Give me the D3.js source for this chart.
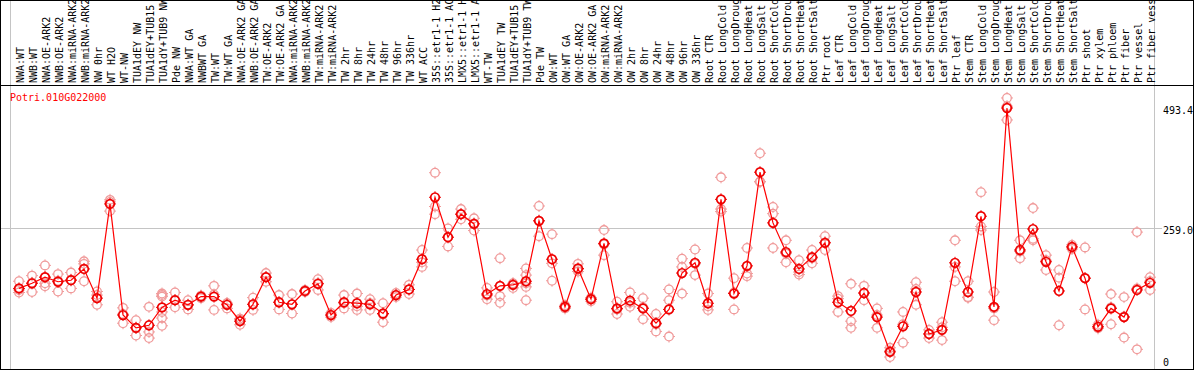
<!DOCTYPE html>
<html>
<head>
<meta charset="utf-8">
<script src="https://cdn.jsdelivr.net/npm/d3@7"></script>
<style>
  body { margin: 0; background: #fff; }
  svg { display: block; }
  text { font-family: "DejaVu Sans Mono", monospace; font-size: 10px; }
</style>
</head>
<body>
<div id="chart"></div>
<script>
// Data
const geneName = 'Potri.010G022000';

const labels = [
  'NWA:WT', 'NWB:WT', 'NWA:OE-ARK2', 'NWB:OE-ARK2', 'NWA:miRNA-ARK2', 'NWB:miRNA-ARK2',
  'NW 0hr', 'WT H2O', 'WT-NW', 'TUA1dEY NW', 'TUA1dEY+TUB15', 'TUA1dY+TUB9 NW', 'Pde NW',
  'NWA:WT GA', 'NWBWT GA', 'TW:WT', 'TW:WT GA', 'NWA:OE-ARK2 GA', 'NWB:OE-ARK2 GA',
  'TW:OE-ARK2', 'TW:OE-ARK2 GA', 'NWA:miRNA-ARK2', 'NWB:miRNA-ARK2', 'TW:miRNA-ARK2',
  'TW:miRNA-ARK2', 'TW 2hr', 'TW 8hr', 'TW 24hr', 'TW 48hr', 'TW 96hr', 'TW 336hr',
  'WT ACC', '35S::etr1-1 H2', '35S::etr1-1 AC', 'LMX5::etr1-1 H', 'LMX5::etr1-1 A',
  'WT-TW', 'TUA1dEY TW', 'TUA1dEY+TUB15', 'TUA1dY+TUB9 TW', 'Pde TW',
  'OW:WT', 'OW:WT GA', 'OW:OE-ARK2', 'OW:OE-ARK2 GA', 'OW:miRNA-ARK2', 'OW:miRNA-ARK2',
  'OW 2hr', 'OW 8hr', 'OW 24hr', 'OW 48hr', 'OW 96hr', 'OW 336hr',
  'Root CTR', 'Root LongCold', 'Root LongDroug', 'Root LongHeat', 'Root LongSalt',
  'Root ShortCold', 'Root ShortDrou', 'Root ShortHeat', 'Root ShortSalt', 'Ptr root',
  'Leaf CTR', 'Leaf LongCold', 'Leaf LongDroug', 'Leaf LongHeat', 'Leaf LongSalt',
  'Leaf ShortCold', 'Leaf ShortDrou', 'Leaf ShortHeat', 'Leaf ShortSalt', 'Ptr leaf',
  'Stem CTR', 'Stem LongCold', 'Stem LongDroug', 'Stem LongHeat', 'Stem LongSalt',
  'Stem ShortCold', 'Stem ShortDrou', 'Stem ShortHeat', 'Stem ShortSalt', 'Ptr shoot',
  'Ptr xylem', 'Ptr phloem', 'Ptr fiber', 'Ptr vessel', 'Ptr fiber vessel'
];

const means = [
  141, 151, 163, 154, 157, 179, 122, 306, 89, 64, 69, 104, 118,
  109, 125, 125, 109, 77, 110, 163, 114, 110, 136, 150, 89, 114, 112, 110, 92, 128, 139,
  198, 319, 241, 286, 267, 130, 146, 148, 155, 273,
  198, 105, 180, 120, 229, 102, 117, 102, 73, 100, 171, 191,
  112, 315, 131, 185, 368, 269, 212, 179, 202, 230,
  114, 97, 132, 85, 17, 67, 134, 52, 60, 191,
  134, 282, 105, 493.4, 216, 257, 193, 136, 222, 161, 66,
  102, 85, 138, 152
];

const replicates = [
  [155, 133, 138], [166, 134, 152], [186, 163, 151, 145], [169, 135, 156], [172, 141, 158],
  [194, 189, 155], [135, 128, 109], [314, 310, 292], [103, 73, 91], [79, 49, 64],
  [105, 56, 44], [131, 128, 125, 95, 83, 68], [133, 118, 104],
  [118, 100, 108], [127, 122, 125], [146, 99, 129], [112, 102, 112], [80, 70, 82],
  [123, 99, 110], [171, 154, 163], [128, 100, 114], [130, 92, 110], [138, 134, 136],
  [159, 138, 151], [93, 85, 89], [128, 102, 112], [131, 99, 106], [120, 99, 112],
  [112, 75, 90], [132, 124, 128], [148, 130, 139], [216, 183, 192], [367, 301, 286],
  [258, 223, 241], [296, 276, 286], [278, 254, 268], [142, 120, 127], [200, 126, 113],
  [150, 142, 151], [180, 167, 151, 144, 118], [302, 243, 273],
  [247, 190, 156], [108, 102, 105], [189, 174, 178], [123, 116, 120], [255, 206, 227],
  [115, 91, 100], [133, 105, 113], [122, 81, 104], [91, 57, 71], [139, 118, 47],
  [199, 183, 131], [217, 167, 189],
  [131, 99, 106], [358, 291, 296], [161, 100, 133], [220, 165, 170], [405, 349, 350],
  [300, 220, 287], [235, 192, 209], [196, 173, 168], [216, 190, 200], [243, 216, 231],
  [126, 95, 121], [150, 64, 77], [146, 118, 132], [89, 64, 102], [25, 7, 19],
  [95, 35, 71], [153, 109, 140], [60, 44, 52], [75, 40, 65], [235, 155, 183],
  [155, 124, 123], [329, 255, 262], [134, 79, 102], [513, 470, 497], [235, 200, 213],
  [298, 235, 238], [206, 177, 196], [177, 69, 162], [226, 218, 222], [221, 100, 161],
  [70, 63, 66], [130, 71, 104], [124, 45, 86], [251, 22, 141], [163, 155, 138]
];

// number of samples in each group (gray separators between groups)
const groupSizes = [13, 28, 12, 10, 10, 11, 1, 1, 1, 1];

const yTicks = [0, 259.0, 493.4];
const gridTicks = [259.0];

// Layout
const width = 1194, height = 370;
const headerBottom = 85.5;
const plotLeft = 10.5, step = 13;
const mainColor = '#ee0000', repColor = '#f09a9a', gridColor = '#c4c4c4';

const svg = d3.select('#chart').append('svg')
  .attr('width', width)
  .attr('height', height);

// columns keyed by index (some labels repeat)
const idx = d3.range(labels.length);
const x = d3.scaleBand().domain(idx)
  .range([plotLeft, plotLeft + step * labels.length])
  .padding(0);
const xp = i => x(i) + 8.5;
const y = d3.scaleLinear().domain([0, 493.4]).range([360.6, 108]);

// Vertical separators
const starts = [0].concat(d3.cumsum(groupSizes));
const seps = starts.map(i => i < labels.length ? x(i) : x.range()[1]);
svg.append('g').selectAll('line')
  .data(seps)
  .enter().append('line')
  .attr('x1', d => d).attr('x2', d => d)
  .attr('y1', 0).attr('y2', height)
  .attr('stroke', gridColor).attr('stroke-width', 1);

// Horizontal grid line
svg.append('g').selectAll('line')
  .data(gridTicks)
  .enter().append('line')
  .attr('x1', 1).attr('x2', 1162)
  .attr('y1', d => Math.round(y(d)) + 0.5).attr('y2', d => Math.round(y(d)) + 0.5)
  .attr('stroke', gridColor).attr('stroke-width', 1);

// Right value labels
svg.append('g').selectAll('text')
  .data(yTicks)
  .enter().append('text')
  .attr('x', 1163)
  .attr('y', d => Math.min(y(d) + 6, 366))
  .attr('fill', '#000')
  .text(d => d === 0 ? '0' : d.toFixed(1));

// Header labels
svg.append('g').selectAll('text')
  .data(idx)
  .enter().append('text')
  .attr('transform', i => `translate(${x(i) + 13.5},83) rotate(-90)`)
  .attr('fill', '#000')
  .text(i => labels[i]);

// Frame
svg.append('rect')
  .attr('x', 0.5).attr('y', 0.5)
  .attr('width', width - 1).attr('height', height - 1)
  .attr('fill', 'none').attr('stroke', '#000');
svg.append('line')
  .attr('x1', 0).attr('x2', width)
  .attr('y1', headerBottom).attr('y2', headerBottom)
  .attr('stroke', '#000');

// Gene name
svg.append('text')
  .attr('x', 10).attr('y', 100.5)
  .attr('fill', '#ff0000')
  .text(geneName);

// marker: circle with small ticks
const marker = (sel, color, w) => {
  sel.append('circle').attr('r', 4.3)
    .attr('fill', 'none').attr('stroke', color).attr('stroke-width', w);
  sel.append('path')
    .attr('d', 'M0,-4.3V-6M0,4.3V6M-4.3,0H-6M4.3,0H6')
    .attr('stroke', color).attr('stroke-width', 1);
};

// Replicates
const reps = [];
idx.forEach(i => replicates[i].forEach(v => reps.push({i: i, value: v})));
svg.append('g').selectAll('g')
  .data(reps)
  .enter().append('g')
  .attr('transform', d => `translate(${xp(d.i)},${y(d.value)})`)
  .call(marker, repColor, 1.3);

// Mean line
const meanData = idx.map(i => ({i: i, value: means[i]}));
const line = d3.line()
  .x(d => xp(d.i))
  .y(d => y(d.value));
svg.append('path')
  .datum(meanData)
  .attr('d', line)
  .attr('fill', 'none')
  .attr('stroke', '#ff0000')
  .attr('stroke-width', 1.2);

svg.append('g').selectAll('g')
  .data(meanData)
  .enter().append('g')
  .attr('transform', d => `translate(${xp(d.i)},${y(d.value)})`)
  .call(marker, mainColor, 1.7);
</script>
</body>
</html>
